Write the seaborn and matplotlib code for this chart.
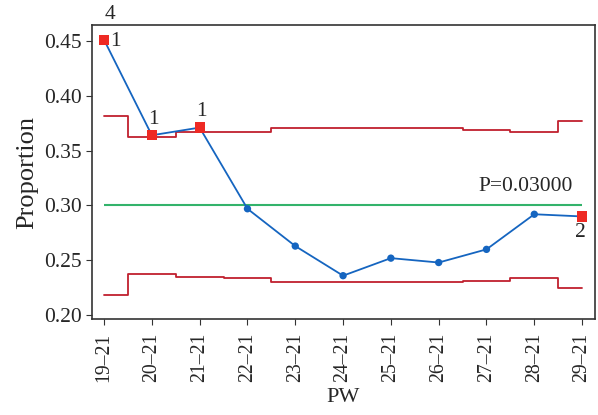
import matplotlib
matplotlib.use("Agg")
import matplotlib.pyplot as plt
import seaborn as sns
import pandas as pd

# данные p-карты
weeks = ["19–21", "20–21", "21–21", "22–21", "23–21", "24–21",
         "25–21", "26–21", "27–21", "28–21", "29–21"]
proportion = [0.451, 0.364, 0.371, 0.297, 0.263, 0.236,
              0.252, 0.248, 0.260, 0.292, 0.290]
ucl = [0.3816, 0.3627, 0.367, 0.367, 0.3705, 0.3705,
       0.3705, 0.3705, 0.369, 0.367, 0.377]
lcl = [0.2185, 0.2377, 0.2344, 0.2335, 0.2301, 0.2301,
       0.2301, 0.2301, 0.2313, 0.2335, 0.2249]
center = 0.30
flagged = [0, 1, 2, 10]

df = pd.DataFrame({"idx": range(len(weeks)), "week": weeks, "p": proportion,
                   "ucl": ucl, "lcl": lcl})

sns.set_style("ticks")
plt.rcParams["font.family"] = ["Liberation Serif", "DejaVu Serif"]

fig = plt.figure(figsize=(5.98, 4.15), dpi=100)
ax = fig.add_axes([0.154, 0.231, 0.841, 0.709])

ax.plot(df["idx"], df["ucl"], drawstyle="steps-mid", color="#c0202e", lw=1.3)
ax.plot(df["idx"], df["lcl"], drawstyle="steps-mid", color="#c0202e", lw=1.3)
ax.hlines(center, 0, len(weeks) - 1, color="#33b36b", lw=1.5)

sns.lineplot(data=df, x="idx", y="p", color="#1565c0", lw=1.3, ax=ax)
normal = df.drop(index=flagged)
sns.scatterplot(data=normal, x="idx", y="p", color="#1565c0", s=28,
                edgecolor="none", ax=ax, zorder=3)
bad = df.loc[flagged]
sns.scatterplot(data=bad, x="idx", y="p", color="#ee2a24", marker="s", s=55,
                edgecolor="none", ax=ax, zorder=4)

# подписи нарушений
fs = 15.5
ax.annotate("4", (0, proportion[0]), xytext=(4.5, 18.5), textcoords="offset points",
            ha="center", va="center", fontsize=fs, annotation_clip=False)
ax.annotate("1", (0, proportion[0]), xytext=(8, -1), textcoords="offset points",
            ha="center", va="center", fontsize=fs)
for i in [1, 2]:
    ax.annotate("1", (i, proportion[i]), xytext=(1, 11.5), textcoords="offset points",
                ha="center", va="center", fontsize=fs)
ax.annotate("2", (10, proportion[10]), xytext=(-1, -11.5), textcoords="offset points",
            ha="center", va="center", fontsize=fs)
ax.annotate("P=0.03000", (9.8, center), xytext=(0, 13.5), textcoords="offset points",
            ha="right", va="center", fontsize=fs)

ax.set_xlim(-0.25, 10.27)
ax.set_ylim(0.1964, 0.4646)
ax.set_xticks(range(len(weeks)))
ax.set_xticklabels(weeks, rotation=90)
ax.set_yticks([0.20, 0.25, 0.30, 0.35, 0.40, 0.45])
ax.set_yticklabels(["0.20", "0.25", "0.30", "0.35", "0.40", "0.45"])
ax.tick_params(length=4, color="#333333")
ax.tick_params(axis="y", labelsize=fs)
ax.tick_params(axis="x", labelsize=14.2, pad=6)
ax.set_xlabel("PW", fontsize=16, labelpad=4)
ax.set_ylabel("Proportion", fontsize=19, labelpad=4)
for s in ax.spines.values():
    s.set_color("#333333")
    s.set_linewidth(1.2)

fig.savefig("out.png", dpi=100)
